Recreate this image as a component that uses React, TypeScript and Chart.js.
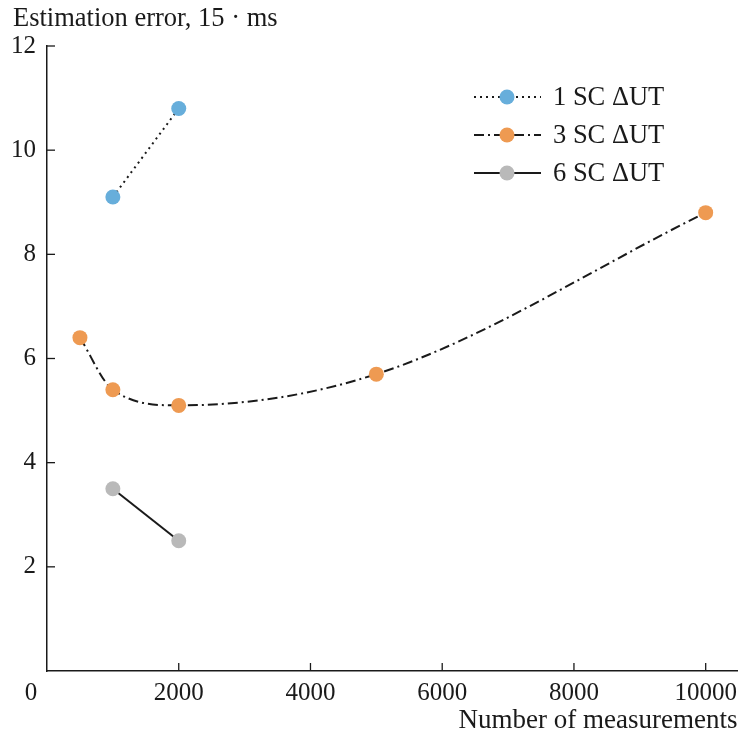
import { useEffect, useRef } from 'react';
import { Chart, registerables } from 'chart.js';
Chart.register(...registerables);

const xTicks = [0, 2000, 4000, 6000, 8000, 10000];
const yTicks = [2, 4, 6, 8, 10, 12];
const sc1X = [1000, 2000];
const sc1Y = [9.1, 10.8];
const sc3X = [500, 1000, 2000, 5000, 10000];
const sc3Y = [6.4, 5.4, 5.1, 5.7, 8.8];
const sc6X = [1000, 2000];
const sc6Y = [3.5, 2.5];
const seriesLabels = ['1 SC ΔUT', '3 SC ΔUT', '6 SC ΔUT'];
const seriesColors = ['#67aedb', '#ee9a52', '#b9b9b9'];
const seriesDash = [[2, 4], [10, 4, 2, 4], []];
const yTitle = 'Estimation error, 15 · ms';
const xTitle = 'Number of measurements';

const FONT = '"Liberation Serif", "DejaVu Serif", serif';
const INK = '#1a1a1a';

const pts = (xs: number[], ys: number[]) => xs.map((x, i) => ({ x, y: ys[i] }));

const decorPlugin = {
  id: 'decor',
  afterDraw(chart: any) {
    const ctx = chart.ctx;
    const xs = chart.scales.x;
    const ys = chart.scales.y;
    const area = chart.chartArea;
    ctx.save();
    // inside ticks
    ctx.strokeStyle = INK;
    ctx.lineWidth = 1.3;
    ctx.setLineDash([]);
    xTicks.forEach((v) => {
      if (v === 0) return;
      const px = xs.getPixelForValue(v);
      ctx.beginPath();
      ctx.moveTo(px, area.bottom);
      ctx.lineTo(px, area.bottom - 8);
      ctx.stroke();
    });
    yTicks.forEach((v) => {
      const py = ys.getPixelForValue(v);
      ctx.beginPath();
      ctx.moveTo(area.left, py);
      ctx.lineTo(area.left + 8, py);
      ctx.stroke();
    });
    // x tick labels (0 sits at the corner, left of the origin)
    ctx.fillStyle = INK;
    ctx.font = `25px ${FONT}`;
    ctx.textAlign = 'center';
    ctx.textBaseline = 'top';
    xTicks.forEach((v) => {
      const px = v === 0 ? area.left - 16 : xs.getPixelForValue(v);
      ctx.fillText(String(v), px, area.bottom + 10);
    });
    // titles
    ctx.font = `26.5px ${FONT}`;
    ctx.textBaseline = 'alphabetic';
    ctx.textAlign = 'left';
    ctx.fillText(yTitle, 13, 26);
    ctx.font = `27px ${FONT}`;
    ctx.textAlign = 'right';
    ctx.fillText(xTitle, area.right, 728);
    // legend
    const rows = [97, 135, 173];
    rows.forEach((ry, i) => {
      ctx.strokeStyle = INK;
      ctx.lineWidth = 2;
      ctx.setLineDash(seriesDash[i]);
      ctx.beginPath();
      ctx.moveTo(474, ry);
      ctx.lineTo(541, ry);
      ctx.stroke();
      ctx.setLineDash([]);
      ctx.fillStyle = seriesColors[i];
      ctx.beginPath();
      ctx.arc(507, ry, 7.5, 0, Math.PI * 2);
      ctx.fill();
      ctx.fillStyle = INK;
      ctx.font = `26.5px ${FONT}`;
      ctx.textAlign = 'left';
      ctx.textBaseline = 'middle';
      ctx.fillText(seriesLabels[i], 553, ry + 1);
    });
    ctx.restore();
  },
};

export default function App() {
  const ref = useRef<HTMLCanvasElement | null>(null);
  useEffect(() => {
    document.body.style.margin = '0';
    const canvas = ref.current;
    if (!canvas) return;
    const ds = (label: string, xs: number[], ys: number[], i: number, extra: any = {}) => ({
      label,
      data: pts(xs, ys),
      borderColor: INK,
      borderWidth: 2,
      borderDash: seriesDash[i],
      pointRadius: 7.5,
      pointHoverRadius: 7.5,
      pointBackgroundColor: seriesColors[i],
      pointBorderWidth: 0,
      fill: false,
      clip: false,
      ...extra,
    });
    const chart = new Chart(canvas, {
      type: 'line',
      data: {
        datasets: [
          ds(seriesLabels[0], sc1X, sc1Y, 0),
          ds(seriesLabels[1], sc3X, sc3Y, 1, { cubicInterpolationMode: 'monotone' }),
          ds(seriesLabels[2], sc6X, sc6Y, 2),
        ],
      },
      options: {
        responsive: false,
        animation: false,
        events: [],
        layout: { padding: { top: 46, right: 4, left: 0, bottom: 0 } },
        plugins: { legend: { display: false }, tooltip: { enabled: false } },
        scales: {
          x: {
            type: 'linear',
            min: 0,
            max: 10483,
            afterBuildTicks: (s: any) => {
              s.ticks = xTicks.map((v) => ({ value: v }));
            },
            afterFit: (s: any) => {
              s.height = 65;
            },
            grid: { display: false, drawTicks: false },
            border: { display: true, color: INK, width: 1.5 },
            ticks: { display: false },
          },
          y: {
            type: 'linear',
            min: 0,
            max: 12,
            afterBuildTicks: (s: any) => {
              s.ticks = yTicks.map((v) => ({ value: v }));
            },
            afterFit: (s: any) => {
              s.width = 47;
            },
            grid: { display: false, drawTicks: false },
            border: { display: true, color: INK, width: 1.5 },
            ticks: {
              padding: 11,
              color: INK,
              font: { family: FONT, size: 25 },
              autoSkip: false,
              callback: (v: any) => String(v),
            },
          },
        },
      },
      plugins: [decorPlugin],
    });
    return () => chart.destroy();
  }, []);
  return (
    <div style={{ width: 745, height: 736 }}>
      <canvas ref={ref} width={745} height={736} style={{ display: 'block' }} />
    </div>
  );
}
